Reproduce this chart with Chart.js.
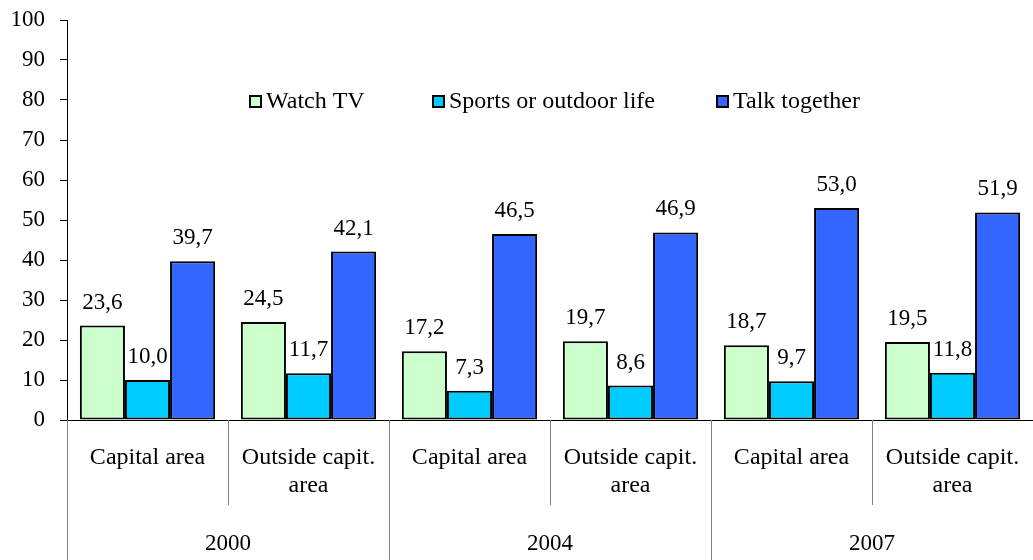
<!DOCTYPE html>
<html>
<head>
<meta charset="utf-8">
<script src="https://cdn.jsdelivr.net/npm/chart.js@4"></script>
<style>
  html, body { margin: 0; padding: 0; background: #fff; }
  #wrap { width: 1033px; height: 560px; }
</style>
</head>
<body>
<div id="wrap"><canvas id="barChart"></canvas></div>
<script>
// categories (two lines each) and year groups
const categories = [
  ['Capital area'], ['Outside capit.', 'area'],
  ['Capital area'], ['Outside capit.', 'area'],
  ['Capital area'], ['Outside capit.', 'area']
];
const years = ['2000', '2004', '2007'];

// series
const watchTV = [23.6, 24.5, 17.2, 19.7, 18.7, 19.5];
const sportsOutdoor = [10.0, 11.7, 7.3, 8.6, 9.7, 11.8];
const talkTogether = [39.7, 42.1, 46.5, 46.9, 53.0, 51.9];

const FONT = '"Liberation Serif", "Times New Roman", serif';

// value labels above every bar
const valueLabels = {
  id: 'valueLabels',
  afterDatasetsDraw(chart) {
    const c = chart.ctx;
    c.save();
    c.font = '23px ' + FONT;
    c.fillStyle = '#000';
    c.textAlign = 'center';
    c.textBaseline = 'middle';
    chart.data.datasets.forEach((ds, i) => {
      chart.getDatasetMeta(i).data.forEach((bar, j) => {
        const txt = ds.data[j].toFixed(1).replace('.', ',');
        c.fillText(txt, bar.x, bar.y - 23);
      });
    });
    c.restore();
  }
};

// legend drawn inside the plot
const innerLegend = {
  id: 'innerLegend',
  afterDraw(chart, args, opts) {
    const c = chart.ctx;
    c.save();
    c.font = '24px ' + FONT;
    c.textBaseline = 'middle';
    chart.data.datasets.forEach((ds, i) => {
      const x = opts.xs[i];
      const y = opts.y;
      c.fillStyle = ds.backgroundColor;
      c.fillRect(x, y - 5, 11, 11);
      c.lineWidth = 2;
      c.strokeStyle = '#000';
      c.strokeRect(x, y - 5, 11, 11);
      c.fillStyle = '#000';
      c.textAlign = 'left';
      c.fillText(ds.label, x + 16, y + 1);
    });
    c.restore();
  }
};

// separators between categories and year labels
const groupAxis = {
  id: 'groupAxis',
  afterDraw(chart) {
    const c = chart.ctx;
    const xs = chart.scales.x;
    const bottom = chart.chartArea.bottom;
    const n = categories.length;
    const step = xs.getPixelForTick(1) - xs.getPixelForTick(0);
    c.save();
    c.strokeStyle = '#808080';
    c.lineWidth = 1;
    for (let i = 0; i < n; i++) {
      const bx = Math.round(xs.getPixelForTick(i) - step / 2) + 0.5;
      const isYear = i % 2 === 0;
      c.beginPath();
      c.moveTo(bx, bottom);
      c.lineTo(bx, isYear ? chart.height : 505);
      c.stroke();
    }
    c.font = '23px ' + FONT;
    c.fillStyle = '#000';
    c.textAlign = 'center';
    c.textBaseline = 'middle';
    years.forEach((y, k) => {
      const mid = (xs.getPixelForTick(k * 2) + xs.getPixelForTick(k * 2 + 1)) / 2;
      c.fillText(y, mid, 544);
    });
    c.restore();
  }
};

const ctx = document.getElementById('barChart').getContext('2d');
const chart = new Chart(ctx, {
  type: 'bar',
  data: {
    labels: categories,
    datasets: [
      { label: 'Watch TV', data: watchTV, backgroundColor: '#CCFFCC' },
      { label: 'Sports or outdoor life', data: sportsOutdoor, backgroundColor: '#00CCFF' },
      { label: 'Talk together', data: talkTogether, backgroundColor: '#3366FF' }
    ]
  },
  options: {
    responsive: true,
    maintainAspectRatio: false,
    animation: false,
    layout: { padding: { top: 20, right: 0, left: 0, bottom: 0 } },
    datasets: {
      bar: {
        borderColor: '#000',
        borderWidth: 2,
        borderSkipped: false,
        barPercentage: 1,
        categoryPercentage: 0.84
      }
    },
    plugins: {
      legend: { display: false },
      tooltip: { enabled: false },
      innerLegend: { xs: [250, 433, 717], y: 101 }
    },
    scales: {
      x: {
        offset: true,
        afterFit(scale) {
          scale.height = 140;
          scale.paddingLeft = 0;
          scale.paddingRight = 0;
        },
        grid: {
          offset: true,
          drawOnChartArea: false,
          color: '#000',
          tickLength: 8
        },
        border: { color: '#000', width: 1 },
        ticks: {
          color: '#000',
          font: { family: FONT, size: 24, lineHeight: 1.15 },
          padding: 16,
          maxRotation: 0,
          autoSkip: false
        }
      },
      y: {
        min: 0,
        max: 100,
        afterFit(scale) {
          scale.width = 67;
          scale.paddingTop = 0;
          scale.paddingBottom = 0;
        },
        grid: {
          drawOnChartArea: false,
          color: '#000',
          tickLength: 7
        },
        border: { color: '#000', width: 1 },
        ticks: {
          stepSize: 10,
          color: '#000',
          font: { family: FONT, size: 23 },
          padding: 15
        }
      }
    }
  },
  plugins: [valueLabels, innerLegend, groupAxis]
});
</script>
</body>
</html>
